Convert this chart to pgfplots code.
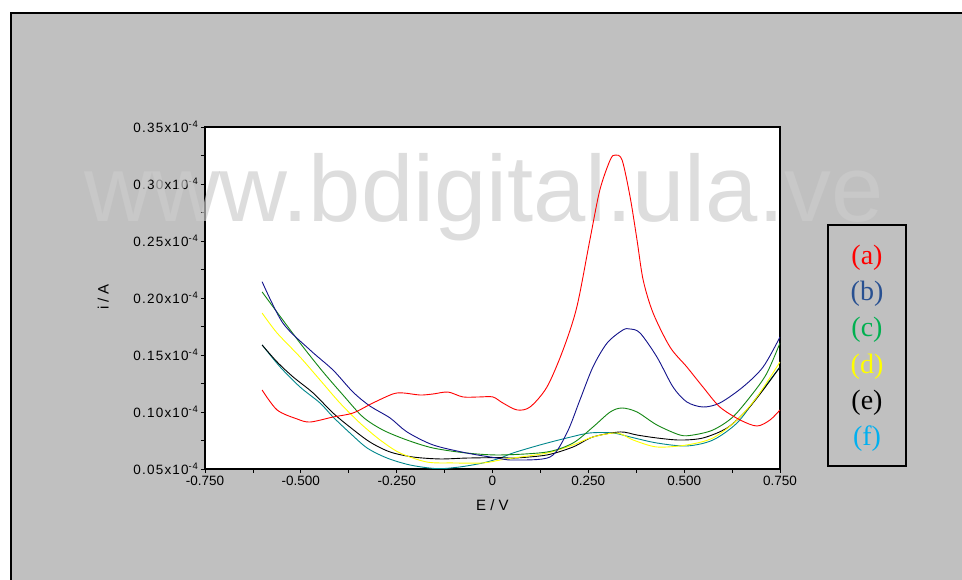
\documentclass[border=0pt]{standalone}
\usepackage{fontspec}
\setmainfont{Liberation Sans}
\newfontfamily\legfont{Liberation Serif}
\newfontfamily\yfont[LetterSpace=9]{Liberation Sans}
\usepackage{pgfplots}
\pgfplotsset{compat=1.18}
\usepackage{pgfplotstable}
\definecolor{bggray}{RGB}{192,192,192}
\definecolor{wmgray}{RGB}{204,204,204}
\definecolor{cA}{RGB}{255,0,0}
\definecolor{cB}{RGB}{20,20,140}
\definecolor{cC}{RGB}{20,135,20}
\definecolor{cD}{RGB}{255,255,0}
\definecolor{cE}{RGB}{0,0,0}
\definecolor{cF}{RGB}{0,135,140}
\definecolor{lB}{RGB}{40,80,145}
\definecolor{lC}{RGB}{0,176,80}
\definecolor{lF}{RGB}{0,176,240}

\pgfplotstableread{
E i
-0.601 0.1193
-0.562 0.1018
-0.510 0.0939
-0.476 0.0912
-0.416 0.0956
-0.364 0.0991
-0.312 0.1079
-0.260 0.1158
-0.233 0.1167
-0.189 0.1149
-0.155 0.1158
-0.116 0.1175
-0.077 0.1132
-0.033 0.1132
0.001 0.1132
0.027 0.1079
0.064 0.1018
0.098 0.1044
0.142 0.1219
0.184 0.1544
0.220 0.1921
0.254 0.2509
0.280 0.2947
0.307 0.3211
0.320 0.3254
0.338 0.3211
0.359 0.2886
0.377 0.2509
0.393 0.2158
0.419 0.1868
0.463 0.1570
0.507 0.1395
0.549 0.1219
0.593 0.1044
0.646 0.0930
0.690 0.0877
0.724 0.0930
0.750 0.1018
}\dataA

\pgfplotstableread{
E i
-0.601 0.2143
-0.547 0.1781
-0.476 0.1544
-0.416 0.1368
-0.364 0.1175
-0.320 0.1053
-0.267 0.0947
-0.223 0.0825
-0.155 0.0711
-0.067 0.0640
0.012 0.0596
0.053 0.0579
0.150 0.0605
0.194 0.0816
0.228 0.1105
0.262 0.1395
0.299 0.1605
0.340 0.1719
0.359 0.1728
0.385 0.1693
0.429 0.1482
0.471 0.1219
0.507 0.1088
0.549 0.1044
0.593 0.1079
0.653 0.1219
0.706 0.1395
0.750 0.1658
}\dataB

\pgfplotstableread{
E i
-0.601 0.2053
-0.547 0.1807
-0.494 0.1570
-0.442 0.1351
-0.390 0.1149
-0.338 0.0956
-0.286 0.0842
-0.223 0.0754
-0.155 0.0684
-0.067 0.0640
0.020 0.0623
0.142 0.0649
0.210 0.0728
0.262 0.0868
0.307 0.1000
0.338 0.1035
0.377 0.1000
0.429 0.0886
0.489 0.0798
0.523 0.0798
0.575 0.0842
0.627 0.0956
0.680 0.1167
0.716 0.1342
0.750 0.1605
}\dataC

\pgfplotstableread{
E i
-0.601 0.1868
-0.562 0.1693
-0.502 0.1482
-0.450 0.1281
-0.398 0.1079
-0.346 0.0904
-0.293 0.0754
-0.241 0.0640
-0.171 0.0561
-0.103 0.0553
-0.025 0.0553
0.020 0.0579
0.053 0.0596
0.142 0.0640
0.210 0.0711
0.262 0.0781
0.325 0.0816
0.367 0.0754
0.429 0.0693
0.507 0.0711
0.575 0.0772
0.638 0.0930
0.690 0.1132
0.750 0.1439
}\dataD

\pgfplotstableread{
E i
-0.601 0.1588
-0.562 0.1439
-0.520 0.1307
-0.468 0.1167
-0.416 0.0991
-0.372 0.0868
-0.320 0.0737
-0.267 0.0649
-0.207 0.0605
-0.137 0.0588
-0.067 0.0596
0.020 0.0600
0.053 0.0595
0.142 0.0623
0.210 0.0693
0.262 0.0781
0.333 0.0825
0.377 0.0798
0.429 0.0772
0.489 0.0754
0.549 0.0772
0.612 0.0860
0.664 0.1018
0.706 0.1193
0.750 0.1395
}\dataE

\pgfplotstableread{
E i
-0.601 0.1588
-0.554 0.1395
-0.502 0.1219
-0.450 0.1079
-0.416 0.0956
-0.372 0.0816
-0.327 0.0684
-0.275 0.0596
-0.215 0.0535
-0.145 0.0503
-0.085 0.0518
-0.025 0.0553
0.020 0.0596
0.053 0.0640
0.124 0.0711
0.194 0.0772
0.254 0.0816
0.314 0.0816
0.359 0.0781
0.429 0.0728
0.507 0.0702
0.575 0.0754
0.638 0.0904
0.690 0.1132
0.750 0.1395
}\dataF

\pgfplotsset{
  base/.style={
    at={(205pt,111pt)}, anchor=south west,
    scale only axis, width=575pt, height=342pt,
    xmin=-0.75, xmax=0.75, ymin=0.05, ymax=0.35,
  }
}
\newcommand{\yl}[1]{#1x10\textsuperscript{-4}}

\begin{document}
\begin{tikzpicture}
\path[use as bounding box] (0pt,0pt) rectangle (962pt,580pt);
\fill[white] (0pt,0pt) rectangle (962pt,580pt);
\fill[bggray] (11pt,0pt) rectangle (962pt,567pt);
\draw[line width=2pt] (11pt,0pt) -- (11pt,567pt) -- (962pt,567pt);
\begin{axis}[
  base,
  axis background/.style={fill=white},
  xtick={-0.75,-0.5,-0.25,0,0.25,0.5,0.75},
  xticklabels={-0.750,-0.500,-0.250,0,0.250,0.500,0.750},
  ytick={0.05,0.10,0.15,0.20,0.25,0.30,0.35},
  yticklabels={\yl{0.05},\yl{0.10},\yl{0.15},\yl{0.20},\yl{0.25},\yl{0.30},\yl{0.35}},
  minor x tick num=1, minor y tick num=1,
  tick align=outside,
  major tick length=4pt, minor tick length=4pt,
  tick style={black, line width=0.8pt},
  axis line style={line width=1.3pt},
  xticklabel style={font=\fontsize{13.5}{15}\selectfont, black},
  yticklabel style={font=\yfont\fontsize{13.5}{15}\selectfont, black, xshift=1pt},
  xtick pos=bottom, ytick pos=left,
  xlabel={E / V}, ylabel={i / A},
  label style={font=\fontsize{15}{17}\selectfont},
  xlabel style={at={(axis description cs:0.5,-0.105)}, anchor=center},
  ylabel style={at={(axis description cs:-0.177,0.503)}, anchor=center},
]
\end{axis}
\node[anchor=base west, inner sep=0pt, text=wmgray, opacity=0.667,
      font=\fontsize{94}{100}\selectfont] at (84pt,358pt) {www.bdigital.ula.ve};
\begin{axis}[
  base, hide axis,
  every axis plot/.append style={line width=0.9pt, smooth, no marks},
]
\addplot[cF] table[x=E,y=i] {\dataF};
\addplot[cE] table[x=E,y=i] {\dataE};
\addplot[cD] table[x=E,y=i] {\dataD};
\addplot[cC] table[x=E,y=i] {\dataC};
\addplot[cB] table[x=E,y=i] {\dataB};
\addplot[cA] table[x=E,y=i] {\dataA};
\end{axis}
\draw[line width=1.8pt, fill=bggray] (828pt,114pt) rectangle (906pt,355pt);
\begin{scope}[every node/.style={font=\legfont\fontsize{28}{30}\selectfont, anchor=center, inner sep=0pt}]
\node[text=cA] at (867pt,322pt) {(a)};
\node[text=lB] at (867pt,286pt) {(b)};
\node[text=lC] at (867pt,250pt) {(c)};
\node[text=cD] at (867pt,213pt) {(d)};
\node[text=black] at (867pt,177pt) {(e)};
\node[text=lF] at (867pt,141pt) {(f)};
\end{scope}
\end{tikzpicture}
\end{document}
